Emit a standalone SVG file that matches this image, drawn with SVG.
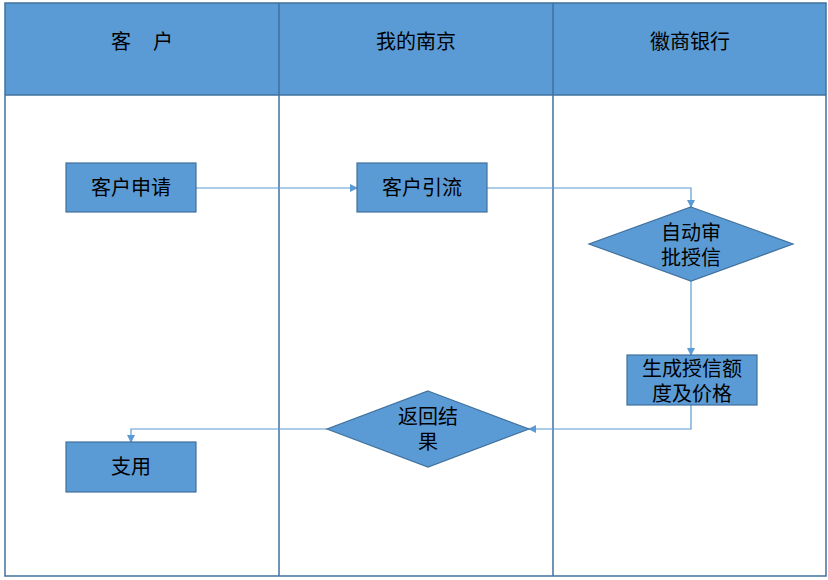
<svg xmlns="http://www.w3.org/2000/svg" width="828" height="580" viewBox="0 0 828 580">
<style>
.n{fill:#5B9BD5;stroke:#41719C;stroke-width:1.2}
.t{font-family:"Liberation Sans","Noto Sans CJK SC",sans-serif;font-size:20px;fill:#000;text-anchor:middle}
.c{fill:none;stroke:#5B9BD5;stroke-width:1.2;marker-end:url(#a)}
.l{stroke:#41719C;stroke-width:1.5;fill:none}
</style>
<defs><marker id="a" markerWidth="8" markerHeight="8" refX="7" refY="4" orient="auto" markerUnits="userSpaceOnUse"><path d="M0,0L8,4L0,8z" fill="#5B9BD5"/></marker></defs>
<rect width="828" height="580" fill="#fff"/>
<g id="lanes">
<rect x="5" y="3" width="821" height="92" fill="#5B9BD5"/>
<rect x="5" y="3" width="821" height="573" class="l"/>
<line x1="5" y1="95" x2="826" y2="95" class="l"/>
<line x1="279" y1="3" x2="279" y2="576" class="l"/>
<line x1="553" y1="3" x2="553" y2="576" class="l"/>
<text class="t" x="142" y="49" xml:space="preserve">客    户</text>
<text class="t" x="416" y="49">我的南京</text>
<text class="t" x="690" y="49">徽商银行</text>
</g>
<g id="connectors">
<path class="c" d="M196,188H357"/>
<path class="c" d="M487,188H691V207"/>
<path class="c" d="M691,281V355"/>
<path class="c" d="M691,405V429H529"/>
<path class="c" d="M327,429H131V442"/>
</g>
<g id="n1"><rect class="n" x="66" y="163" width="130" height="49"/><text class="t" x="131" y="195">客户申请</text></g>
<g id="n2"><rect class="n" x="357" y="163" width="130" height="49"/><text class="t" x="422" y="195">客户引流</text></g>
<g id="n3"><polygon class="n" points="691,207 793,244 691,281 589,244"/><text class="t" x="691" y="240">自动审</text><text class="t" x="691" y="265">批授信</text></g>
<g id="n4"><rect class="n" x="627" y="355" width="130" height="50"/><text class="t" x="692" y="376">生成授信额</text><text class="t" x="692" y="401">度及价格</text></g>
<g id="n5"><polygon class="n" points="428,391 529,429 428,467 327,429"/><text class="t" x="428" y="424">返回结</text><text class="t" x="428" y="449">果</text></g>
<g id="n6"><rect class="n" x="66" y="442" width="130" height="50"/><text class="t" x="131" y="474">支用</text></g>
</svg>
